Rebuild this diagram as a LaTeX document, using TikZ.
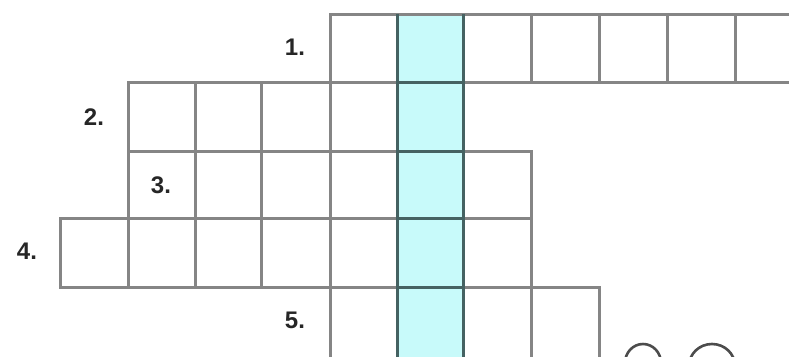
\documentclass[tikz,border=0pt]{standalone}
\usepackage{fontspec}
\setmainfont{Liberation Sans}
\definecolor{cyanfill}{HTML}{C8FAFA}
\definecolor{gridgray}{HTML}{858585}
\definecolor{darkedge}{HTML}{456262}
\tikzset{
  cellline/.style={draw=gridgray, line width=3pt},
  keyline/.style={draw=darkedge, line width=3pt},
  numlabel/.style={font=\fontsize{24}{27}\selectfont\bfseries, text=black!85, inner sep=0pt},
  ring/.style={draw=gray!60!black, line width=2.6pt}
}
\begin{document}
\begin{tikzpicture}[x=1pt,y=-1pt]
\useasboundingbox (0,0) rectangle (789,356);
\clip (0,0) rectangle (789,356);
\fill[white] (0,0) rectangle (789,356);
% highlighted key column
\fill[cyanfill] (397,14) rectangle (463,372);
% row 1
\foreach \a/\b in {330/397,397/463,463/531,531/599,599/667,667/735,735/803}
  \draw[cellline] (\a,14) rectangle (\b,82);
% row 2
\foreach \a/\b in {128/195,195/261,261/330,330/397,397/463}
  \draw[cellline] (\a,82) rectangle (\b,151);
% row 3
\foreach \a/\b in {128/195,195/261,261/330,330/397,397/463,463/531}
  \draw[cellline] (\a,151) rectangle (\b,218);
% row 4
\foreach \a/\b in {60/128,128/195,195/261,261/330,330/397,397/463,463/531}
  \draw[cellline] (\a,218) rectangle (\b,287);
% row 5
\foreach \a/\b in {330/397,397/463,463/531,531/599}
  \draw[cellline] (\a,287) rectangle (\b,372);
% key column edges
\draw[keyline] (397,14) -- (397,372);
\draw[keyline] (463,14) -- (463,372);
\foreach \y in {82,151,218,287}
  \draw[keyline] (397,\y) -- (463,\y);
% labels
\node[numlabel] (l1) at (295,47) {1.};
\node[numlabel] (l2) at (94,117) {2.};
\node[numlabel] (l3) at (161,185) {3.};
\node[numlabel] (l4) at (27,251) {4.};
\node[numlabel] (l5) at (295,320) {5.};
% partial rings at the bottom edge
\draw[ring] (643,363) ellipse [x radius=18, y radius=19];
\draw[ring] (712,366) ellipse [x radius=23, y radius=22];
\end{tikzpicture}
\end{document}
